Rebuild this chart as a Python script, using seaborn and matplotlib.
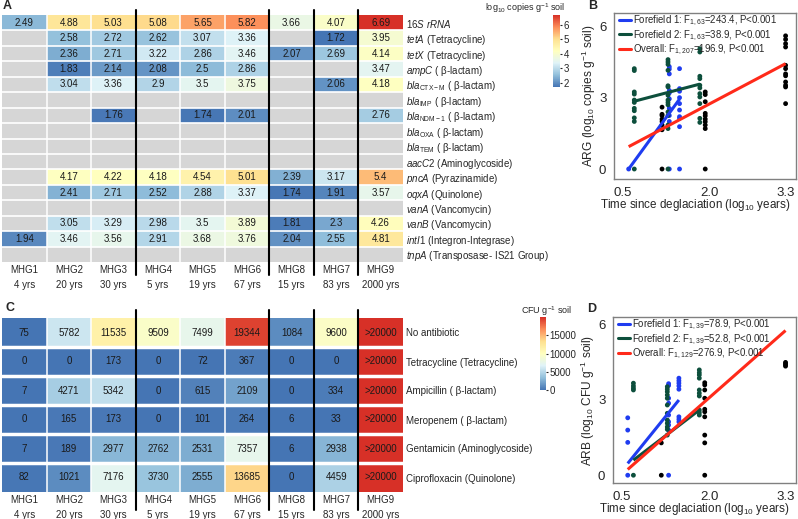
import numpy as np
import pandas as pd
import matplotlib
matplotlib.use('Agg')
import matplotlib.pyplot as plt
import seaborn as sns
from matplotlib.colors import LinearSegmentedColormap
from matplotlib.lines import Line2D

# data ------------------------------------------------------------------
sites = ['MHG1', 'MHG2', 'MHG3', 'MHG4', 'MHG5', 'MHG6', 'MHG8', 'MHG7', 'MHG9']
ages = [4, 20, 30, 5, 19, 67, 15, 83, 2000]
groups = ['Forefield 1'] * 3 + ['Forefield 2'] * 3 + ['Other'] * 3

gene_labels = [
    r'16$\mathit{S}$ $\mathit{rRNA}$',
    r'$\mathit{tetA}$ (Tetracycline)',
    r'$\mathit{tetX}$ (Tetracycline)',
    r'$\mathit{ampC}$ ( β-lactam)',
    r'$\mathit{bla}_{\mathrm{CTX-M}}$ ( β-lactam)',
    r'$\mathit{bla}_{\mathrm{IMP}}$ ( β-lactam)',
    r'$\mathit{bla}_{\mathrm{NDM-1}}$ ( β-lactam)',
    r'$\mathit{bla}_{\mathrm{OXA}}$ ( β-lactam)',
    r'$\mathit{bla}_{\mathrm{TEM}}$ ( β-lactam)',
    r'$\mathit{aacC2}$ (Aminoglycoside)',
    r'$\mathit{pncA}$ (Pyrazinamide)',
    r'$\mathit{oqxA}$ (Quinolone)',
    r'$\mathit{vanA}$ (Vancomycin)',
    r'$\mathit{vanB}$ (Vancomycin)',
    r'$\mathit{intI}$1 (Integron-Integrase)',
    r'$\mathit{tnpA}$ (Transposase- IS21 Group)',
]
na = np.nan
arg_values = [
    [2.49, 4.88, 5.03, 5.08, 5.65, 5.82, 3.66, 4.07, 6.69],
    [na, 2.58, 2.72, 2.62, 3.07, 3.36, na, 1.72, 3.95],
    [na, 2.36, 2.71, 3.22, 2.86, 3.46, 2.07, 2.69, 4.14],
    [na, 1.83, 2.14, 2.08, 2.5, 2.86, na, na, 3.47],
    [na, 3.04, 3.36, 2.9, 3.5, 3.75, na, 2.06, 4.18],
    [na] * 9,
    [na, na, 1.76, na, 1.74, 2.01, na, na, 2.76],
    [na] * 9,
    [na] * 9,
    [na] * 9,
    [na, 4.17, 4.22, 4.18, 4.54, 5.01, 2.39, 3.17, 5.4],
    [na, 2.41, 2.71, 2.52, 2.88, 3.37, 1.74, 1.91, 3.57],
    [na] * 9,
    [na, 3.05, 3.29, 2.98, 3.5, 3.89, 1.81, 2.3, 4.26],
    [1.94, 3.46, 3.56, 2.91, 3.68, 3.76, 2.04, 2.55, 4.81],
    [na] * 9,
]

abx_labels = ['No antibiotic', 'Tetracycline (Tetracycline)', 'Ampicillin ( β-lactam)',
              'Meropenem ( β-lactam)', 'Gentamicin (Aminoglycoside)', 'Ciprofloxacin (Quinolone)']
# None = ">20000"
arb_values = [
    [75, 5782, 11535, 9509, 7499, 19344, 1084, 9600, None],
    [0, 0, 173, 0, 72, 367, 0, 0, None],
    [7, 4271, 5342, 0, 615, 2109, 0, 334, None],
    [0, 165, 173, 0, 101, 264, 6, 33, None],
    [7, 189, 2977, 2762, 2531, 7357, 6, 2938, None],
    [82, 1021, 7176, 3730, 2555, 13685, 0, 4459, None],
]

# replicate points (log10), same site order as `sites`
arg_points = [
    [0],
    [4.3, 4.2, 4.0, 3.3, 3.2, 2.95, 2.55, 2.25, 2.0, 0],
    [4.22, 3.38, 3.27, 3.0, 2.75, 2.48, 2.2, 2.13, 1.78, 0],
    [4.22, 4.14, 3.24, 3.15, 2.9, 2.8, 2.55, 2.45, 2.15, 2.0, 0],
    [4.6, 4.5, 4.4, 4.15, 3.5, 3.45, 3.1, 2.9, 2.8, 2.7, 2.4, 2.25, 1.85, 1.7, 0],
    [5.06, 4.92, 3.9, 3.8, 3.52, 3.41, 3.17, 3.03, 2.75, 2.13, 1.96],
    [2.6, 2.3, 2.25, 2.1, 2.0, 1.85, 1.65, 0],
    [3.24, 3.13, 2.83, 2.34, 2.24, 2.1, 1.99, 1.85, 1.7, 0],
    [5.6, 5.45, 5.27, 5.13, 4.36, 4.22, 4.0, 3.92, 3.66, 3.52, 3.45, 2.75],
]
arb_points = [
    [2.29, 1.8, 1.31, 0],
    [3.65, 3.58, 3.07, 2.87, 2.4, 2.13, 2.0, 1.8, 0],
    [3.87, 3.77, 3.67, 3.56, 3.43, 2.33, 2.23, 2.13],
    [3.67, 3.56, 3.47, 3.4, 0],
    [3.53, 3.43, 3.33, 3.2, 3.07, 2.8, 2.47, 2.2, 2.07, 1.93, 1.83, 1.6],
    [4.2, 4.09, 4.0, 3.87, 3.4, 3.27, 3.16, 2.6, 2.5, 2.4],
    [1.29, 0],
    [3.69, 3.6, 3.4, 3.07, 2.63, 2.53, 2.33, 1.6, 1.29, 0],
    [4.5, 4.45, 4.4, 4.35],
]

# fitted lines: age range (years) and fitted values at both ends
fit_names = ['Forefield 1', 'Forefield 2', 'Overall']
fit_ages = [[4, 30], [5, 67], [4, 2000]]
arg_fit = [[0.0, 2.94], [2.85, 3.57], [0.94, 4.43]]
arb_fit = [[0.47, 3.0], [0.6, 2.6], [0.23, 5.77]]
arg_stats = [r'F$_{1,63}$=243.4', r'F$_{1,63}$=38.9', r'F$_{1,207}$=196.9']
arb_stats = [r'F$_{1,39}$=78.9', r'F$_{1,39}$=52.8', r'F$_{1,129}$=276.9']

# style -----------------------------------------------------------------
sns.set_style('white')
plt.rcParams['font.family'] = ['Liberation Sans', 'DejaVu Sans']
plt.rcParams['mathtext.fontset'] = 'custom'
plt.rcParams['mathtext.rm'] = 'Liberation Sans'
plt.rcParams['mathtext.it'] = 'Liberation Sans:italic'
plt.rcParams['mathtext.bf'] = 'Liberation Sans:bold'

cmap = LinearSegmentedColormap.from_list(
    'arg', ['#4575b4', '#91bfdb', '#e0f3f8', '#ffffbf', '#fee090', '#fc8d59', '#d73027'])
colors = {'Forefield 1': '#1f3cf0', 'Forefield 2': '#0d4f3c', 'Other': 'black', 'Overall': '#ff2a1a'}

W, H = 798, 519
fig = plt.figure(figsize=(W / 100, H / 100), dpi=100)


def px_axes(l, t, r, b):
    return fig.add_axes([l / W, 1 - b / H, (r - l) / W, (b - t) / H])


site_labels = [f'{s}\n{a} yrs' for s, a in zip(sites, ages)]


def draw_heat(ax, cax, df, annot, vmin, vmax, row_lw, y_ext):
    sns.heatmap(df, ax=ax, cmap=cmap, vmin=vmin, vmax=vmax, annot=annot, fmt='',
                annot_kws={'size': 7, 'color': '#1a1a1a'}, cbar_ax=cax,
                xticklabels=site_labels, yticklabels=df.index)
    ax.set_facecolor('#d6d6d6')
    nr, nc = df.shape
    for i in range(1, nr):
        ax.axhline(i, color='white', lw=row_lw)
    for j in range(1, nc):
        ax.axvline(j, color='white', lw=1.1)
    for j in [3, 6, 7, 8]:
        ax.plot([j, j], y_ext, color='black', lw=1.5, clip_on=False, zorder=5)
    ax.yaxis.tick_right()
    ax.tick_params(axis='both', length=0, labelsize=7, pad=2)
    ax.set_yticklabels(df.index, rotation=0, ha='left')
    ax.set_xticklabels(site_labels, rotation=0, linespacing=1.6)
    ax.set_xlabel('')
    ax.set_ylabel('')
    cax.tick_params(labelsize=7, length=1.5, pad=1)
    for sp in cax.spines.values():
        sp.set_visible(False)


# panel A
argA = pd.DataFrame(arg_values, index=gene_labels, columns=sites)
annA = argA.map(lambda v: '' if pd.isna(v) else f'{v:g}')
axA = px_axes(2, 15, 403, 262)
caxA = px_axes(553, 15, 560, 87)
draw_heat(axA, caxA, argA, annA, 1.72, 6.69, 1.2, [-0.35, 16.85])
caxA.set_yticks([2, 3, 4, 5, 6])
fig.text(525 / W, 1 - 8 / H, r'log$_{10}$ copies g$^{-1}$ soil', fontsize=6.5, ha='center', va='center')

# panel C
arbC = pd.DataFrame([[20000 if v is None else v for v in row] for row in arb_values],
                    index=abx_labels, columns=sites)
annC = pd.DataFrame([['>20000' if v is None else str(v) for v in row] for row in arb_values],
                    index=abx_labels, columns=sites)
axC = px_axes(2, 318, 403, 492)
caxC = px_axes(540, 317, 546, 390)
draw_heat(axC, caxC, arbC, annC, 0, 20000, 2.5, [-0.28, 6.62])
caxC.set_yticks([0, 5000, 10000, 15000])
fig.text(546 / W, 1 - 311 / H, r'CFU g$^{-1}$ soil', fontsize=6.5, ha='center', va='center')


# panels B and D
def draw_scatter(ax, points, fit, stats, ylim, ylabel):
    rows = []
    for s, a, g, pts in zip(sites, ages, groups, points):
        for v in pts:
            rows.append({'x': np.log10(a), 'y': v, 'group': g})
    pdf = pd.DataFrame(rows)
    sns.scatterplot(data=pdf, x='x', y='y', hue='group', palette=colors, s=12,
                    linewidth=0, legend=False, ax=ax, zorder=2)
    handles = []
    for name, a_rng, yv, st in zip(fit_names, fit_ages, fit, stats):
        c = colors[name]
        ax.plot(np.log10(a_rng), yv, color=c, lw=2.2, zorder=3, solid_capstyle='butt')
        handles.append(Line2D([], [], color=c, lw=2.2, label=f'{name}: {st}, P<0.001'))
    ax.legend(handles=handles, loc='upper left', bbox_to_anchor=(0.02, 1.0), frameon=False,
              fontsize=6.9, handlelength=1.25, handletextpad=0.25, labelspacing=0.0,
              borderaxespad=0.0, borderpad=0.1)
    ax.set_xlim(0.35, 3.48)
    ax.set_ylim(*ylim)
    ax.set_xticks([0.5, 2.0, 3.3])
    ax.set_xticklabels(['0.5', '2.0', '3.3'])
    ax.set_yticks([0, 3, 6])
    for sp in ax.spines.values():
        sp.set_color('#808080')
        sp.set_linewidth(1)
    ax.tick_params(direction='out', length=4, color='#808080', labelsize=9.5, pad=1.5)
    ax.set_xlabel(r'Time since deglaciation (log$_{10}$ years)', fontsize=8.4, labelpad=0)
    ax.xaxis.set_label_coords(0.445, -0.11)
    ax.set_ylabel(ylabel, fontsize=8.6, labelpad=1)


axB = px_axes(614, 13, 796, 179)
draw_scatter(axB, arg_points, arg_fit, arg_stats, (-0.42, 6.56),
             r'ARG (log$_{10}$ copies g$^{-1}$ soil)')
axD = px_axes(613, 317, 796, 483)
draw_scatter(axD, arb_points, arb_fit, arb_stats, (-0.31, 6.31),
             r'ARB (log$_{10}$ CFU g$^{-1}$ soil)')

for lab, x, y in [('A', 3, 6), ('B', 588, 6), ('C', 6, 308), ('D', 587, 309)]:
    fig.text(x / W, 1 - y / H, lab, fontsize=9, fontweight='bold', ha='left', va='center')

fig.savefig('out.png', dpi=100)
